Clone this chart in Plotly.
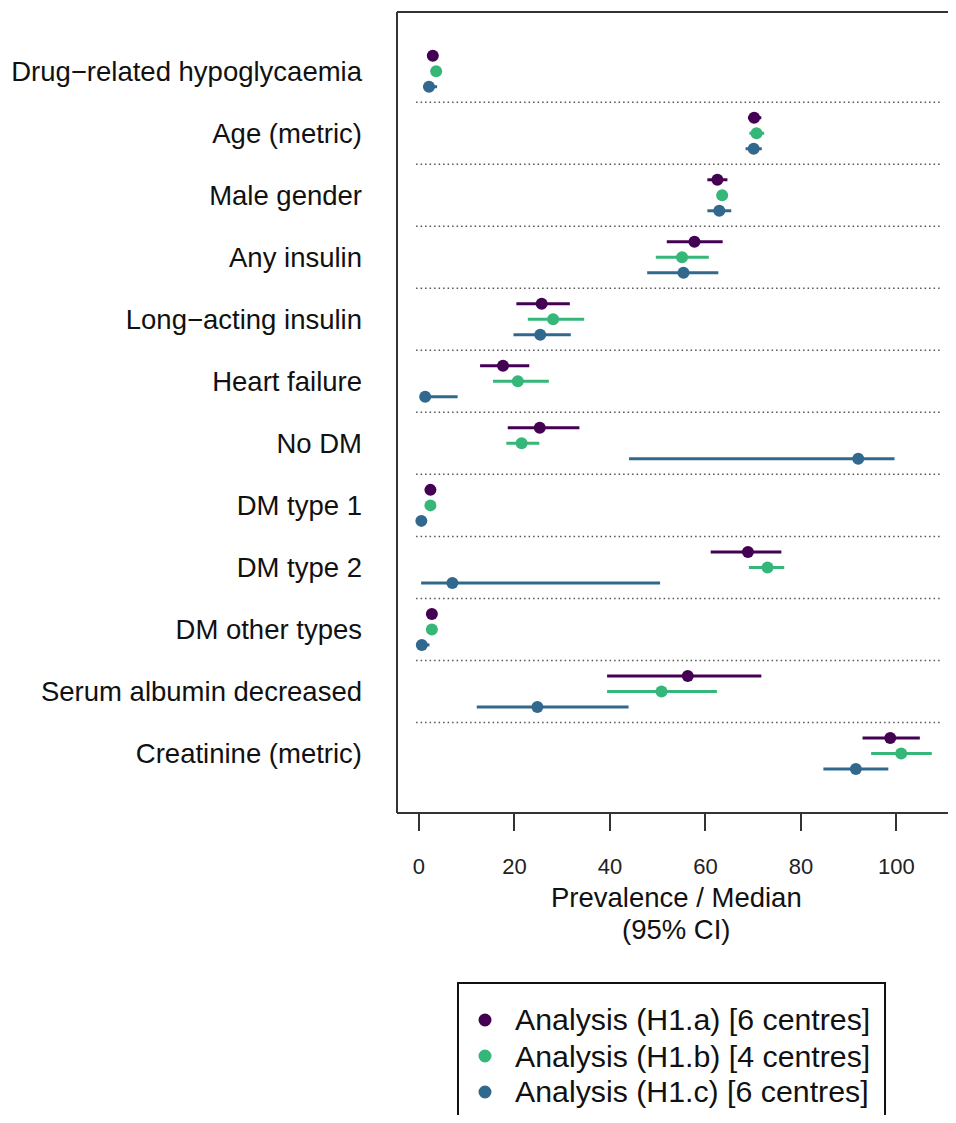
import plotly.graph_objects as go

categories = ["Drug\u2212related hypoglycaemia", "Age (metric)", "Male gender", "Any insulin",
              "Long\u2212acting insulin", "Heart failure", "No DM", "DM type 1", "DM type 2",
              "DM other types", "Serum albumin decreased", "Creatinine (metric)"]

series_names = ["Analysis (H1.a) [6 centres]", "Analysis (H1.b) [4 centres]", "Analysis (H1.c) [6 centres]"]

h1a_est = [2.9, 70.2, 62.5, 57.7, 25.7, 17.6, 25.3, 2.4, 68.9, 2.7, 56.3, 98.7]
h1a_lo = [2.3, 68.9, 60.4, 51.9, 20.4, 12.8, 18.6, 1.8, 61.1, 2.1, 39.4, 92.9]
h1a_hi = [3.6, 71.7, 64.6, 63.6, 31.6, 23.1, 33.6, 3.1, 75.9, 3.4, 71.7, 104.9]

h1b_est = [3.6, 70.7, 63.5, 55.1, 28.1, 20.7, 21.5, 2.4, 73.0, 2.7, 50.8, 101.0]
h1b_lo = [3.0, 69.2, 62.5, 49.6, 22.8, 15.5, 18.3, 1.9, 69.1, 2.1, 39.4, 94.7]
h1b_hi = [4.2, 72.3, 64.7, 60.7, 34.6, 27.2, 25.2, 3.0, 76.5, 3.3, 62.4, 107.4]

h1c_est = [2.1, 70.1, 62.9, 55.4, 25.4, 1.3, 92.0, 0.5, 7.0, 0.6, 24.8, 91.5]
h1c_lo = [0.9, 68.4, 60.4, 47.8, 19.8, 0.3, 44.0, 0.1, 0.45, 0.1, 12.1, 84.7]
h1c_hi = [3.8, 71.8, 65.4, 62.7, 31.8, 8.1, 99.6, 1.5, 50.5, 2.2, 43.9, 98.3]

x_ticks = [0, 20, 40, 60, 80, 100]

colors = ["#440154", "#35B779", "#31688E"]
offsets = [-0.25, 0.0, 0.25]

FONT = "Arial, Liberation Sans, sans-serif"
rows = list(range(1, len(categories) + 1))

fig = go.Figure()
for name, est, lo, hi, col, off in zip(series_names,
                                       [h1a_est, h1b_est, h1c_est],
                                       [h1a_lo, h1b_lo, h1c_lo],
                                       [h1a_hi, h1b_hi, h1c_hi],
                                       colors, offsets):
    fig.add_trace(go.Scatter(
        x=est, y=[r + off for r in rows], mode="markers", name=name,
        marker=dict(color=col, size=12),
        error_x=dict(type="data", symmetric=False,
                     array=[h - e for h, e in zip(hi, est)],
                     arrayminus=[e - l for e, l in zip(est, lo)],
                     color=col, thickness=3, width=0),
        showlegend=False,
    ))

# dotted separators between categories
for r in rows[:-1]:
    fig.add_shape(type="line", xref="x", yref="y", x0=-0.6, x1=109.3, y0=r + 0.5, y1=r + 0.5,
                  line=dict(color="#555555", width=1.5, dash="1.5px,3px"), layer="below")

# keep the right-hand edge open (the box runs off the page there)
fig.add_shape(type="rect", xref="paper", yref="paper", x0=0.992, x1=1.05, y0=0.002, y1=0.998,
              line=dict(width=0), fillcolor="white", layer="above")

# plot box: left, top and bottom edges
BOX = dict(color="#333333", width=2)
fig.add_shape(type="line", xref="paper", yref="paper", x0=0, x1=0, y0=0, y1=1, line=BOX)
fig.add_shape(type="line", xref="paper", yref="paper", x0=0, x1=1.02, y0=1, y1=1, line=BOX)
fig.add_shape(type="line", xref="paper", yref="paper", x0=0, x1=1.02, y0=0, y1=0, line=BOX)

# legend box (bottom edge runs off the page), drawn below the chart
leg_x0, leg_x1, leg_top = 0.1107, 0.8857, -0.2122
leg_marker_x, leg_text_x = 0.1597, 0.2105
leg_rows_y = [-0.2584, -0.3034, -0.3483]
fig.add_shape(type="rect", xref="paper", yref="paper", x0=leg_x0, x1=leg_x1, y0=leg_top, y1=-0.5,
              line=dict(color="#111111", width=2), fillcolor="rgba(0,0,0,0)")
for name, col, ly in zip(series_names, colors, leg_rows_y):
    fig.add_shape(type="circle", xref="paper", yref="paper", xsizemode="pixel", ysizemode="pixel",
                  xanchor=leg_marker_x, yanchor=ly, x0=-6.5, x1=6.5, y0=-6.5, y1=6.5,
                  line=dict(width=0), fillcolor=col)
    fig.add_annotation(text=name, xref="paper", yref="paper", x=leg_text_x, y=ly,
                       showarrow=False, xanchor="left", yanchor="middle",
                       font=dict(family=FONT, size=30.3, color="#111111"))

fig.update_xaxes(range=[-4.6, 110.8], tickvals=x_ticks, ticktext=[str(v) for v in x_ticks],
                 ticks="outside", ticklen=17, tickwidth=1.5, tickcolor="#333333",
                 showline=False, showgrid=False, zeroline=False,
                 tickfont=dict(family=FONT, size=22, color="#222222"),
                 ticklabelstandoff=17)
fig.update_yaxes(range=[12.96, 0.045], tickvals=rows, ticktext=categories, ticks="",
                 showline=False, showgrid=False, zeroline=False,
                 tickfont=dict(family=FONT, size=27.5, color="#111111"),
                 ticklabelstandoff=34)

fig.add_annotation(text="Prevalence / Median", xref="paper", yref="paper", x=0.508, y=-0.1049,
                   showarrow=False, xanchor="center", yanchor="middle",
                   font=dict(family=FONT, size=27.5, color="#111111"))
fig.add_annotation(text="(95% CI)", xref="paper", yref="paper", x=0.508, y=-0.146,
                   showarrow=False, xanchor="center", yanchor="middle",
                   font=dict(family=FONT, size=27.5, color="#111111"))

fig.update_layout(
    width=940, height=1107,
    margin=dict(l=389, r=0, t=4, b=302, autoexpand=False),
    paper_bgcolor="white", plot_bgcolor="white",
    showlegend=False,
    font=dict(family=FONT),
)

fig.write_html("out.html")
